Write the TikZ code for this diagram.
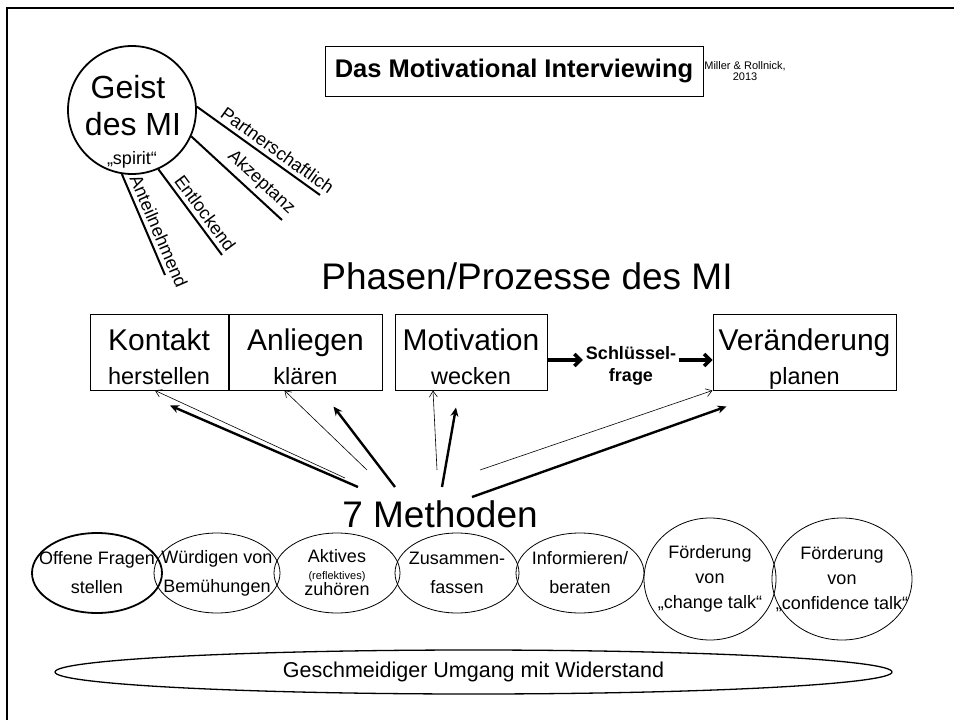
\documentclass[tikz,border=0pt]{standalone}
\usepackage{fontspec}
\setmainfont{Liberation Sans}
\usetikzlibrary{shapes.geometric,arrows.meta,calc}

\newcommand{\fsz}[2][]{\fontsize{#2}{#2}\selectfont}
% two lines of a phase box: big word, smaller verb
\newcommand{\phasetext}[2]{\rule{0pt}{36pt}{\fsz{30}#1}\\#2\rule[-6pt]{0pt}{6pt}}

\begin{document}
\begin{tikzpicture}[x=1pt,y=-1pt,
    every node/.style={inner sep=0pt},
    phase/.style={draw,line width=1pt,minimum height=76pt,align=center,
      font=\fontsize{23.5}{34}\selectfont},
    method/.style={draw,ellipse,line width=0.8pt,minimum height=80pt},
    methodtext/.style={align=center,font=\fontsize{18}{29}\selectfont},
    spoke/.style={line width=2pt},
    spokelabel/.style={sloped,above,inner sep=4pt,font=\fsz{18}},
    thinarrow/.style={-{Straight Barb[length=6pt,width=8pt]},line width=0.6pt},
    thickarrow/.style={-{Stealth[length=9pt,width=8pt]},line width=2.4pt},
    keyarrow/.style={-{Straight Barb[length=6pt,width=12pt]},line width=3.5pt}]

  \useasboundingbox (0,0) rectangle (954,720);
  \draw[line width=2.5pt] (954,8) -- (7,8) -- (7,720);

  % Geist des MI
  \node[draw,circle,line width=1.8pt,minimum size=128pt] (geist) at (132,110) {};
  \node[anchor=base,font=\fsz{32}] (geistword) at (128,98) {Geist};
  \node[anchor=base,font=\fsz{32}] (desmi) at (133,135) {des MI};
  \node[anchor=base,font=\fsz{18}] (spirit) at (132,164) {„spirit“};

  \coordinate (p1) at (320,195);
  \coordinate (p2) at (282,220);
  \coordinate (p3) at (222,255);
  \coordinate (p4) at (165,275);
  \draw[spoke] (geist.3) -- (p1) node[spokelabel,pos=0.6] {Partnerschaftlich};
  \draw[spoke] (geist.-24) -- (p2) node[spokelabel,pos=0.67] {Akzeptanz};
  \draw[spoke] (geist.-66) -- (p3) node[spokelabel,pos=0.59] {Entlockend};
  \draw[spoke] (geist.-99) -- (p4) node[spokelabel,pos=0.61] {Anteilnehmend};

  % Titel
  \node[draw,line width=1pt,minimum width=378pt,minimum height=50pt,
    font=\bfseries\fsz{25.5}] (title) at (514,71) {Das Motivational Interviewing};
  \node[align=center,font=\fsz{11}] (source) at (745,71) {Miller \& Rollnick,\\2013};

  % Phasen
  \node[font=\fsz{37}] (phasen) at (527,276) {Phasen/Prozesse des MI};
  \node[phase,minimum width=138pt] (kontakt) at (159,352) {\phasetext{Kontakt}{herstellen}};
  \node[phase,minimum width=153pt,anchor=west] (anliegen) at (kontakt.east) {\phasetext{Anliegen}{klären}};
  \node[phase,minimum width=152pt] (motivation) at (471,352) {\phasetext{Motivation}{wecken}};
  \node[phase,minimum width=183pt] (veraenderung) at (804.5,352) {\phasetext{Veränderung}{planen}};

  \node[align=center,inner sep=3pt,font=\bfseries\fontsize{18}{22}\selectfont] (frage) at (631,366) {Schlüssel-\\frage};
  \draw[keyarrow] ([yshift=-8pt]motivation.east) -- ([yshift=-8pt]motivation.east -| frage.west);
  \draw[keyarrow] ([yshift=-8pt]veraenderung.west -| frage.east) -- ([yshift=-8pt]veraenderung.west);

  % Methoden
  \node[font=\fsz{37}] (methoden) at (440,514) {7 Methoden};

  \coordinate (a1) at (345,478);
  \coordinate (b1) at (358,487);
  \coordinate (a2) at (367,470);
  \coordinate (b2) at (395,487);
  \coordinate (a3) at (437,470);
  \coordinate (b3) at (442,487);
  \coordinate (a4) at (480,470);
  \coordinate (b4) at (472,497);
  \draw[thinarrow] (a1) -- ([xshift=-4pt]kontakt.south);
  \draw[thickarrow] (b1) -- ($(kontakt.south)+(11,15)$);
  \draw[thinarrow] (a2) -- ([xshift=-21pt]anliegen.south);
  \draw[thickarrow] (b2) -- ($(anliegen.south)+(28,16)$);
  \draw[thinarrow] (a3) -- ([xshift=-38pt]motivation.south);
  \draw[thickarrow] (b3) -- ($(motivation.south)+(-15,17)$);
  \draw[thinarrow] (a4) -- (veraenderung.south west);
  \draw[thickarrow] (b4) -- ($(veraenderung.south west)+(14,16)$);

  \node[method,line width=1.8pt,minimum width=130pt] (m1) at (97,573) {};
  \node[method,minimum width=126pt] (m2) at (217,573) {};
  \node[method,minimum width=126pt] (m3) at (337,573) {};
  \node[method,minimum width=124pt] (m4) at (457,573) {};
  \node[method,minimum width=128pt] (m5) at (580,573) {};
  \node[method,minimum width=132pt,minimum height=122pt] (m6) at (710,579) {};
  \node[method,minimum width=140pt,minimum height=122pt] (m7) at (842,579) {};
  \node[methodtext] at (m1) {Offene Fragen\\stellen};
  \node[methodtext] at (m2) {Würdigen von\\Bemühungen};
  \node[methodtext,font=\fontsize{18}{16.5}\selectfont] at (m3) {Aktives\\{\fsz{11}(reflektives)}\\zuhören};
  \node[methodtext] at (m4) {Zusammen-\\fassen};
  \node[methodtext] at (m5) {Informieren/\\beraten};
  \node[methodtext,font=\fontsize{18}{25}\selectfont] at (m6) {Förderung\\von\\„change talk“};
  \node[methodtext,font=\fontsize{18}{25}\selectfont] at (m7) {Förderung\\von\\„confidence talk“};

  \node[draw,ellipse,line width=1.3pt,minimum width=837pt,minimum height=44pt,
    font=\fsz{21.5}] (widerstand) at (473.5,672) {Geschmeidiger Umgang mit Widerstand};
\end{tikzpicture}
\end{document}
